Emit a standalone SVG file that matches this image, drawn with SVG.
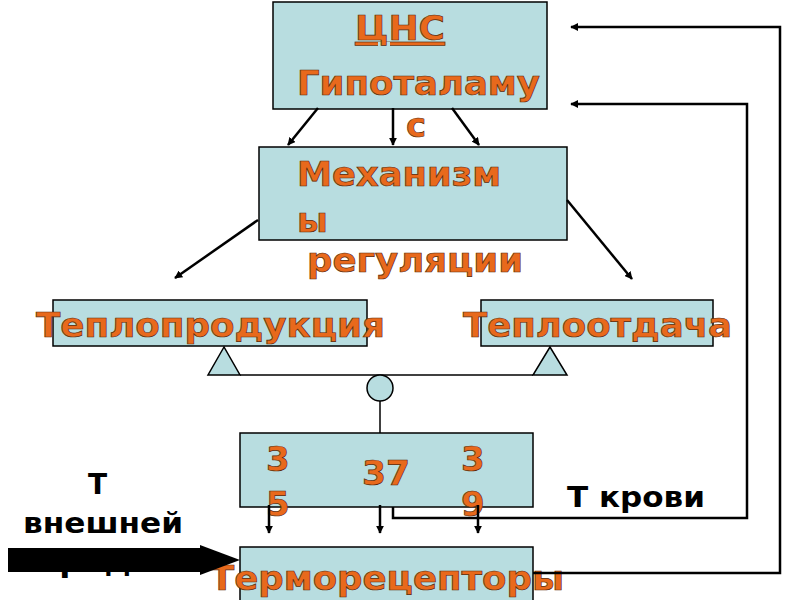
<svg xmlns="http://www.w3.org/2000/svg" width="800" height="600" viewBox="0 0 800 600">
<defs>
<marker id="ah" viewBox="0 0 10 10" refX="9" refY="5" markerWidth="8" markerHeight="8" markerUnits="userSpaceOnUse" orient="auto"><path d="M0,0 L10,5 L0,10 z" fill="#000"/></marker>
<style>
.box{fill:#b8dde0;stroke:#000;stroke-width:1.5}
.t{font-family:"DejaVu Sans","Liberation Sans",sans-serif;font-weight:bold;font-size:34px;fill:#e8691c;stroke:#5a2a0a;stroke-width:0.7}
.k{font-family:"DejaVu Sans","Liberation Sans",sans-serif;font-weight:bold;font-size:28px;fill:#000}
.c{stroke:#000;stroke-width:2.5;fill:none}
</style>
</defs>
<rect width="800" height="600" fill="#fff"/>
<g id="cns"><rect class="box" x="273" y="2" width="274" height="107"/>
<text class="t" x="355" y="40" textLength="90" lengthAdjust="spacingAndGlyphs" text-decoration="underline">ЦНС</text>
<text class="t" x="297" y="95" textLength="243" lengthAdjust="spacingAndGlyphs">Гипоталаму</text>
<text class="t" x="406" y="137">с</text></g>
<g id="mech"><rect class="box" x="259" y="147" width="308" height="93"/>
<text class="t" x="297" y="186" textLength="204" lengthAdjust="spacingAndGlyphs">Механизм</text>
<text class="t" x="297" y="232">ы</text>
<text class="t" x="307" y="272" textLength="216" lengthAdjust="spacingAndGlyphs">регуляции</text></g>
<g id="prod"><rect class="box" x="53" y="300" width="314" height="46"/>
<text class="t" x="36" y="337" textLength="349" lengthAdjust="spacingAndGlyphs">Теплопродукция</text></g>
<g id="otd"><rect class="box" x="481" y="300" width="232" height="46"/>
<text class="t" x="463" y="337" textLength="269" lengthAdjust="spacingAndGlyphs">Теплоотдача</text></g>
<g id="scale">
<polygon class="box" points="224,347 208,375 240,375"/>
<polygon class="box" points="550,347 533,375 567,375"/>
<line x1="240" y1="375" x2="533" y2="375" stroke="#000" stroke-width="1.5"/>
<line x1="380" y1="401" x2="380" y2="433" stroke="#000" stroke-width="1.5"/>
<circle class="box" cx="380" cy="388" r="13"/></g>
<g id="temp"><rect class="box" x="240" y="433" width="293" height="74"/>
<text class="t" x="266" y="471">3</text><text class="t" x="266" y="516">5</text>
<text class="t" x="362" y="485" textLength="48" lengthAdjust="spacingAndGlyphs">37</text>
<text class="t" x="461" y="471">3</text><text class="t" x="461" y="516">9</text></g>
<g id="recep"><rect class="box" x="240" y="547" width="293" height="60"/>
<text class="t" x="210" y="590" textLength="354" lengthAdjust="spacingAndGlyphs">Терморецепторы</text></g>
<g id="labels">
<text class="k" x="88" y="494">Т</text>
<text class="k" x="23" y="533" textLength="160" lengthAdjust="spacingAndGlyphs">внешней</text>
<text class="k" x="40" y="572" textLength="120" lengthAdjust="spacingAndGlyphs">среды</text>
<text class="k" x="567" y="507" textLength="138" lengthAdjust="spacingAndGlyphs">Т крови</text></g>
<g id="connectors">
<line class="c" x1="318" y1="108" x2="288" y2="145" marker-end="url(#ah)"/>
<line class="c" x1="393" y1="108" x2="393" y2="145" marker-end="url(#ah)"/>
<line class="c" x1="452" y1="108" x2="479" y2="145" marker-end="url(#ah)"/>
<line class="c" x1="258" y1="220" x2="175" y2="278" marker-end="url(#ah)"/>
<line class="c" x1="567" y1="200" x2="632" y2="279" marker-end="url(#ah)"/>
<line class="c" x1="269" y1="505" x2="269" y2="533" marker-end="url(#ah)"/>
<line class="c" x1="380" y1="505" x2="380" y2="533" marker-end="url(#ah)"/>
<line class="c" x1="478" y1="505" x2="478" y2="533" marker-end="url(#ah)"/>
<polyline class="c" points="393,507 393,518 747,518 747,104 571,104" marker-end="url(#ah)"/>
<polyline class="c" points="533,573 780,573 780,27 571,27" marker-end="url(#ah)"/>
<line x1="8" y1="560" x2="205" y2="560" stroke="#000" stroke-width="24"/>
<polygon points="200,545 240,560 200,575" fill="#000"/>
</g>
</svg>
